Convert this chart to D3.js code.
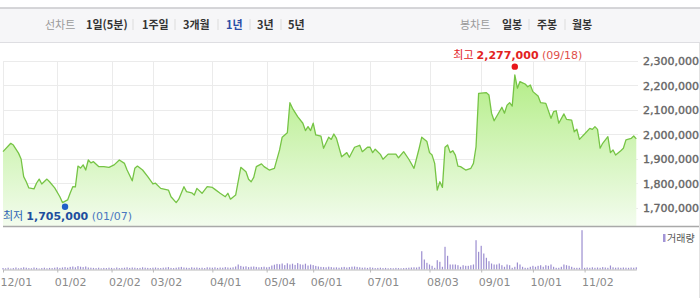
<!DOCTYPE html>
<html lang="ko">
<head>
<meta charset="UTF-8">
<title>1년 차트</title>
<script src="https://d3js.org/d3.v7.min.js"></script>
<style>
  body { margin: 0; background: #fff; }
  svg { display: block; font-family: "Noto Sans CJK KR", "DejaVu Sans", sans-serif; }
  .grid line { stroke: #ebebeb; stroke-width: 1; }
  .yaxis text { font-family: "DejaVu Sans", sans-serif; font-size: 11px; fill: #666; stroke: #666; stroke-width: 0.4px; }
  .xaxis text { font-family: "DejaVu Sans", sans-serif; font-size: 11px; fill: #8a8a8a; }
  .xaxis line, .xaxis path { stroke: #b9b9b9; }
</style>
</head>
<body>
<svg width="700" height="298"></svg>
<script>
// 기간 탭 / 봉차트 탭
const lineTabs = ["1일(5분)", "1주일", "3개월", "1년", "3년", "5년"];
const candleTabs = ["일봉", "주봉", "월봉"];

// x축 날짜 (거래일 인덱스)
const dateLabels = ["12/01", "01/02", "02/02", "03/02", "04/01", "05/04", "06/01", "07/01", "08/03", "09/01", "10/01", "11/02"];
const dateIdx = [0, 21, 42, 58, 81, 102, 120, 142, 165, 185, 205, 225];

// y축 눈금
const priceTicks = [1700000, 1800000, 1900000, 2000000, 2100000, 2200000, 2300000];

// 종가 (거래일 인덱스, 값)
const priceDay = [0,3,4,6,7,8,9,10,12,13,14,15,17,18,20,22,23,25,26,27,28,29,30,31,32,33,34,35,37,39,41,43,45,47,48,50,51,52,54,56,58,59,61,64,65,67,68,70,71,73,74,75,77,79,81,82,84,86,87,88,90,92,94,95,96,97,98,100,101,103,105,107,108,110,111,112,114,116,117,118,119,120,121,123,124,126,127,128,129,131,133,134,136,138,139,141,142,143,144,146,147,149,152,153,155,157,159,161,162,164,165,166,167,168,169,170,171,172,173,174,175,176,177,179,181,182,183,184,187,188,189,190,192,193,194,195,196,197,198,199,200,201,202,203,204,205,207,208,210,212,213,214,215,217,218,220,221,222,223,225,227,228,229,230,231,232,234,235,236,237,239,240,241,243,244,245];
const priceClose = [1930000,1964000,1957000,1924000,1900000,1828000,1807000,1782000,1778000,1802000,1818000,1798000,1818000,1807000,1782000,1746000,1722000,1733000,1761000,1787000,1786000,1871000,1863000,1876000,1855000,1896000,1884000,1889000,1869000,1869000,1866000,1876000,1896000,1882000,1855000,1811000,1862000,1871000,1855000,1828000,1798000,1801000,1780000,1773000,1746000,1722000,1736000,1787000,1767000,1762000,1753000,1780000,1760000,1787000,1784000,1776000,1760000,1746000,1760000,1736000,1753000,1866000,1848000,1817000,1807000,1825000,1869000,1880000,1869000,1855000,1862000,1937000,1989000,2007000,2130000,2107000,2073000,2046000,2016000,2032000,2016000,2046000,1998000,1993000,1944000,1989000,1980000,2002000,1984000,1909000,1926000,1907000,1948000,1956000,1930000,1948000,1948000,1926000,1940000,1919000,1899000,1920000,1920000,1905000,1930000,1899000,1862000,1944000,1989000,1971000,1926000,1916000,1882000,1773000,1807000,1784000,1948000,1957000,1926000,1934000,1916000,1871000,1869000,1855000,1862000,1882000,1950000,2168000,2171000,2161000,2087000,2056000,2093000,2111000,2087000,2120000,2130000,2116000,2243000,2189000,2216000,2211000,2206000,2195000,2202000,2175000,2157000,2130000,2127000,2066000,2093000,2097000,2046000,2084000,2062000,2059000,2011000,2022000,1980000,2002000,2025000,2021000,2032000,2021000,1944000,1964000,1991000,1926000,1937000,1916000,1934000,1944000,1978000,1984000,1994000,1982000];

// 거래량 (거래일별)
const volume = [
  15,12,18,10,14,20,12,16,22,18,
  14,12,20,16,10,14,18,12,16,14,
  18,22,16,20,24,18,26,30,22,34,
  28,24,30,20,18,16,14,18,12,16,
  14,18,16,12,20,14,16,18,22,16,
  20,18,14,16,22,18,16,14,18,20,
  16,14,18,20,24,16,14,18,22,26,
  20,18,16,22,18,20,16,18,14,22,
  20,18,22,16,20,18,24,20,18,22,
  30,50,36,28,32,24,28,30,26,22,
  24,28,22,26,40,48,56,52,60,44,
  62,50,58,46,64,52,48,58,40,50,
  44,36,30,26,24,22,28,24,20,22,
  18,22,26,20,24,28,30,26,22,18,
  20,16,22,18,14,16,18,14,16,12,
  14,12,16,14,12,14,16,18,20,22,
  20,27,183,100,67,50,37,17,93,77,
  27,227,137,50,50,50,43,27,43,37,
  37,43,50,293,177,237,160,117,83,60,
  50,50,60,43,27,50,43,17,27,70,
  50,27,17,17,27,37,27,37,43,27,
  43,37,50,27,17,17,27,50,43,37,
  27,17,17,17,393,17,20,17,22,17,
  20,17,24,20,17,40,22,18,20,17,
  20,18,17,20,18,22
];

// 최저 / 최고
const lowDay = 24, lowValue = 1705000, lowDate = "01/07";
const highDay = 198, highValue = 2277000, highDate = "09/18";

const svg = d3.select("svg");
const W = 700;

// 상단 탭 바
svg.append("rect").attr("x", 0).attr("y", 8).attr("width", W).attr("height", 34).attr("fill", "#f6f6f8");
svg.append("line").attr("x1", 0).attr("x2", W).attr("y1", 8).attr("y2", 8).attr("stroke", "#c8c8cc").attr("stroke-width", 1.5);
svg.append("line").attr("x1", 0).attr("x2", W).attr("y1", 42.5).attr("y2", 42.5).attr("stroke", "#dedee2");

const tabY = 28.5;
svg.append("text").attr("x", 45).attr("y", tabY).attr("font-size", 11).attr("fill", "#9a9a9a").text("선차트");
const lineTabX = [86, 142, 183, 226, 257, 288];
const lineSepX = [133, 175, 218, 250, 281];
lineTabs.forEach((t, i) => {
  svg.append("text").attr("x", lineTabX[i]).attr("y", tabY).attr("font-size", 11).attr("font-weight", "bold")
    .attr("fill", t === "1년" ? "#2b4da6" : "#333").text(t);
});
svg.append("text").attr("x", 460).attr("y", tabY).attr("font-size", 11).attr("fill", "#9a9a9a").text("봉차트");
const candleTabX = [502, 537, 572];
const candleSepX = [529, 565];
candleTabs.forEach((t, i) => {
  svg.append("text").attr("x", candleTabX[i]).attr("y", tabY).attr("font-size", 11).attr("font-weight", "bold")
    .attr("fill", "#333").text(t);
});
[...lineSepX, ...candleSepX].forEach(sx => {
  svg.append("line").attr("x1", sx).attr("x2", sx).attr("y1", 19).attr("y2", 30).attr("stroke", "#dcdcdc");
});

// 스케일
const x = d3.scaleLinear().domain([0, 245]).range([3, 636.3]);
const y = d3.scaleLinear().domain([1626500, 2300000]).range([226, 61]);
const yv = d3.scaleLinear().domain([0, 400]).range([269.5, 229.5]);

// 그리드
const grid = svg.append("g").attr("class", "grid");
grid.selectAll(".h").data(priceTicks).join("line")
  .attr("x1", 3).attr("x2", 638).attr("y1", d => Math.round(y(d)) + 0.5).attr("y2", d => Math.round(y(d)) + 0.5);
grid.selectAll(".v").data(dateIdx).join("line")
  .attr("x1", d => Math.round(x(d)) + 0.5).attr("x2", d => Math.round(x(d)) + 0.5).attr("y1", 61).attr("y2", 226);

// 면적 그라데이션
const grad = svg.append("defs").append("linearGradient").attr("id", "g1")
  .attr("gradientUnits", "userSpaceOnUse").attr("x1", 0).attr("x2", 0).attr("y1", 61).attr("y2", 226);
grad.append("stop").attr("offset", "0%").attr("stop-color", "#aeec7e");
grad.append("stop").attr("offset", "100%").attr("stop-color", "#f3fcee");

const pts = priceDay.map((d, i) => [d, priceClose[i]]);
svg.append("path").datum(pts).attr("fill", "url(#g1)")
  .attr("d", d3.area().x(d => x(d[0])).y0(226).y1(d => y(d[1])));
svg.append("path").datum(pts).attr("fill", "none").attr("stroke", "#76c445").attr("stroke-width", 1.3)
  .attr("stroke-linejoin", "round")
  .attr("d", d3.line().x(d => x(d[0])).y(d => y(d[1])));

// 가격 영역 하단선
svg.append("line").attr("x1", 3).attr("x2", W).attr("y1", 226.5).attr("y2", 226.5).attr("stroke", "#a9a9a9").attr("stroke-width", 1.5);
svg.append("line").attr("x1", 699.5).attr("x2", 699.5).attr("y1", 43).attr("y2", 298).attr("stroke", "#e2e2e2");

// y축
const yAxis = svg.append("g").attr("class", "yaxis").attr("transform", "translate(643,0)")
  .call(d3.axisRight(y).tickValues(priceTicks).tickFormat(d3.format(",")).tickSize(0).tickPadding(0));
yAxis.select(".domain").remove();

// 최고 / 최저 표시
svg.append("circle").attr("cx", x(highDay)).attr("cy", y(highValue)).attr("r", 3.2).attr("fill", "#e8161b");
const ht = svg.append("text").attr("x", x(highDay) + 3).attr("y", y(highValue) - 7.5)
  .attr("text-anchor", "middle").attr("font-size", 11).attr("fill", "#e2231f");
ht.append("tspan").text("최고 ");
ht.append("tspan").attr("font-family", "DejaVu Sans").attr("font-weight", "bold").text(d3.format(",")(highValue));
ht.append("tspan").attr("font-family", "DejaVu Sans").attr("fill", "#e0504a").text(" (" + highDate + ")");

svg.append("circle").attr("cx", x(lowDay)).attr("cy", y(lowValue)).attr("r", 3.2).attr("fill", "#1f5fc8");
const lt = svg.append("text").attr("x", 3).attr("y", y(lowValue) + 13.5)
  .attr("font-size", 11).attr("fill", "#2d62b5");
lt.append("tspan").text("최저 ");
lt.append("tspan").attr("font-family", "DejaVu Sans").attr("font-weight", "bold").attr("fill", "#1e4f9e").text(d3.format(",")(lowValue));
lt.append("tspan").attr("font-family", "DejaVu Sans").attr("fill", "#4a78c0").text(" (" + lowDate + ")");

// 거래량
svg.append("g").selectAll("rect").data(volume).join("rect")
  .attr("x", (d, i) => x(i) - 0.6).attr("width", 1.2)
  .attr("y", d => yv(d)).attr("height", d => yv(0) - yv(d))
  .attr("fill", "#9c8ed0");

const xAxis = svg.append("g").attr("class", "xaxis").attr("transform", "translate(0,269.5)")
  .call(d3.axisBottom(x).tickValues(dateIdx).tickFormat((d, i) => dateLabels[i]).tickSize(3).tickSizeOuter(0).tickPadding(6));
xAxis.selectAll("text").attr("text-anchor", "start").attr("dx", -3);

// 범례
svg.append("rect").attr("x", 663).attr("y", 234).attr("width", 2.5).attr("height", 8).attr("fill", "#a395d6");
svg.append("text").attr("x", 667).attr("y", 242).attr("font-size", 10).attr("fill", "#555").text("거래량");
</script>
</body>
</html>
